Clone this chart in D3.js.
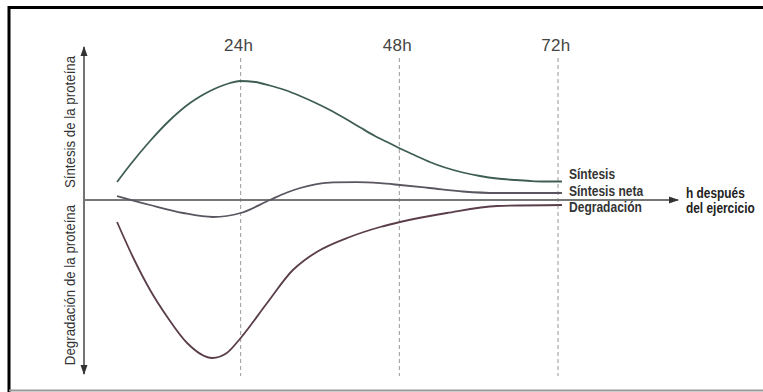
<!DOCTYPE html>
<html><head><meta charset="utf-8">
<script src="https://cdn.jsdelivr.net/npm/d3@7"></script>
<style>body{margin:0;background:#fff}svg{display:block}</style>
</head><body>
<svg id="c" width="763" height="392"></svg>
<script>
// Data (hours after exercise, relative rate; 0 = baseline)
const hourTicks = [24, 48, 72];
const tickLabels = ["24h", "48h", "72h"];
const synthHours = [5.3, 7.26, 10.29, 13.31, 16.34, 17.85, 19.36, 20.87, 22.39, 23.9, 26.2, 28.4, 30.7, 33, 35.2, 37.5, 39.8, 42.1, 44.3, 46.6, 48.1, 50.4, 52.6, 54.9, 57.6, 60.2, 62.8, 65.5, 67.8, 70, 72.6];
const synthValues = [18, 35, 59, 80, 97, 103.5, 109, 113.5, 117, 119, 118, 114.5, 110, 104, 97.5, 90, 81.5, 72.5, 64, 56.5, 51.5, 44.5, 38, 32.5, 27.5, 24, 21.5, 20, 19, 18.5, 18.5];
const netHours = [5.3, 10.3, 15.3, 19.8, 24, 28.4, 31, 33, 35.5, 38, 41.5, 45.1, 48.1, 52.6, 57.6, 62.8, 72.6];
const netValues = [4, -5, -13, -17, -13, 0, 7.5, 12, 15.8, 17.6, 17.8, 16.8, 15, 12, 8.5, 7, 7];
const degHours = [5.3, 7.7, 10.3, 12.9, 15.9, 19.7, 21.9, 24, 28, 31.9, 33.7, 35.5, 40.5, 45.1, 48.1, 55.2, 62.8, 72.6];
const degValues = [-22, -57, -90, -117, -143, -158, -153, -138, -103, -70, -60, -52, -37, -27, -22, -13, -6, -5];
const seriesNames = ["Síntesis", "Síntesis neta", "Degradación"];
const seriesColors = ["#3e5e54", "#5a5560", "#5b3e4b"];

const svg = d3.select("#c");
const x = d3.scaleLinear().domain([0, 72]).range([82, 558]);
const y = d3.scaleLinear().domain([-160, 160]).range([360, 40]);

// frame
svg.append("line").attr("x1", 8).attr("x2", 763).attr("y1", 7.5).attr("y2", 7.5).attr("stroke", "#000").attr("stroke-width", 3);
svg.append("line").attr("x1", 9).attr("x2", 9).attr("y1", 6).attr("y2", 392).attr("stroke", "#000").attr("stroke-width", 3);
svg.append("line").attr("x1", 9).attr("x2", 763).attr("y1", 390.5).attr("y2", 390.5).attr("stroke", "#999").attr("stroke-width", 2);

// dashed verticals + labels
hourTicks.forEach((h, i) => {
  svg.append("line").attr("x1", x(h)).attr("x2", x(h)).attr("y1", 58).attr("y2", 376)
    .attr("stroke", "#999").attr("stroke-width", 1).attr("stroke-dasharray", "4,3");
  svg.append("text").attr("x", x(h) - 2).attr("y", 51).attr("text-anchor", "middle")
    .attr("font-family", "Liberation Sans, Arial, sans-serif").attr("font-size", 17)
    .attr("letter-spacing", 0.3).attr("fill", "#444").text(tickLabels[i]);
});

// axes
const defs = svg.append("defs");
defs.append("marker").attr("id", "ah").attr("viewBox", "0 0 10 10").attr("refX", 9).attr("refY", 5)
  .attr("markerWidth", 10).attr("markerHeight", 10).attr("markerUnits", "userSpaceOnUse").attr("orient", "auto")
  .append("path").attr("d", "M0,1.5 L10,5 L0,8.5 Z").attr("fill", "#333");
svg.append("line").attr("x1", 84).attr("x2", 84).attr("y1", y(0)).attr("y2", 47)
  .attr("stroke", "#444").attr("stroke-width", 1.5).attr("marker-end", "url(#ah)");
svg.append("line").attr("x1", 84).attr("x2", 84).attr("y1", y(0)).attr("y2", 374)
  .attr("stroke", "#444").attr("stroke-width", 1.5).attr("marker-end", "url(#ah)");
svg.append("line").attr("x1", 84).attr("x2", 678).attr("y1", y(0)).attr("y2", y(0))
  .attr("stroke", "#777").attr("stroke-width", 2).attr("marker-end", "url(#ah)");

// axis titles
svg.append("text").attr("transform", "translate(75,122) rotate(-90) scale(0.95,1)").attr("text-anchor", "middle")
  .attr("font-family", "Liberation Sans, Arial, sans-serif").attr("font-size", 14).attr("fill", "#333")
  .text("Síntesis de la proteína");
svg.append("text").attr("transform", "translate(75,285) rotate(-90) scale(0.95,1)").attr("text-anchor", "middle")
  .attr("font-family", "Liberation Sans, Arial, sans-serif").attr("font-size", 14).attr("fill", "#333")
  .text("Degradación de la proteína");

// curves
const line = d3.line().x(d => x(d[0])).y(d => y(d[1])).curve(d3.curveMonotoneX);
const series = [
  d3.zip(synthHours, synthValues),
  d3.zip(netHours, netValues),
  d3.zip(degHours, degValues)
];
series.forEach((s, i) => {
  svg.append("path").attr("d", line(s)).attr("fill", "none")
    .attr("stroke", seriesColors[i]).attr("stroke-width", 1.8);
});

// series labels (condensed via horizontal scale)
const labelY = [179, 196, 212];
seriesNames.forEach((n, i) => {
  svg.append("text").attr("transform", `translate(569,${labelY[i]}) scale(0.86,1)`)
    .attr("font-family", "Liberation Sans, Arial, sans-serif").attr("font-weight", "bold")
    .attr("font-size", 14).attr("fill", "#333").text(n);
});
svg.append("text").attr("transform", "translate(686,197.5) scale(0.82,1)")
  .attr("font-family", "Liberation Sans, Arial, sans-serif").attr("font-weight", "bold")
  .attr("font-size", 14.5).attr("fill", "#222").text("h después");
svg.append("text").attr("transform", "translate(686,212.5) scale(0.82,1)")
  .attr("font-family", "Liberation Sans, Arial, sans-serif").attr("font-weight", "bold")
  .attr("font-size", 14.5).attr("fill", "#222").text("del ejercicio");
</script>
</body></html>
